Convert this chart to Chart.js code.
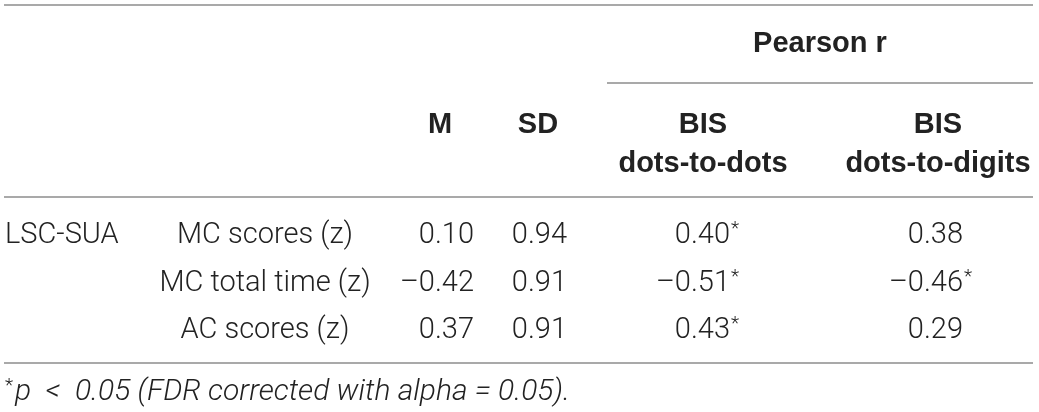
<!DOCTYPE html>
<html>
<head>
<meta charset="utf-8">
<script src="https://cdn.jsdelivr.net/npm/chart.js@4"></script>
<style>
  html, body { margin: 0; padding: 0; background: #ffffff; }
  #wrap { position: relative; width: 1039px; height: 412px; }
</style>
</head>
<body>
<div id="wrap"><canvas id="tableChart"></canvas></div>
<script>
// Данные таблицы
const groupLabels = ['LSC-SUA'];
const measures = ['MC scores (z)', 'MC total time (z)', 'AC scores (z)'];
const meanValues = [0.10, -0.42, 0.37];
const sdValues = [0.94, 0.91, 0.91];
const rDotsToDots = [0.40, -0.51, 0.43];
const rDotsToDigits = [0.38, -0.46, 0.29];
const sigDotsToDots = [true, true, true];
const sigDotsToDigits = [false, true, false];
const spanHeader = 'Pearson r';
const colHeaders = ['M', 'SD', 'BIS', 'BIS'];
const colSubHeaders = ['', '', 'dots-to-dots', 'dots-to-digits'];
const footnote = 'p  <  0.05 (FDR corrected with alpha = 0.05).';

document.addEventListener("DOMContentLoaded", function () {

    // Разметка (в единицах шкал: x 0..1039, y 0..412)
    const LAYOUT = {
        groupX: 5,
        measureX: 265,
        meanRight: 474,
        sdRight: 567,
        r1Right: 730,
        r2Right: 963,
        headCenters: [440, 538, 703, 938],
        spanCenter: 820,
        spanY: 52,
        headY: 133,
        subHeadY: 172,
        rowY: [243, 291, 338],
        footY: 400,
        rules: [
            { y: 5, x1: 4, x2: 1033 },
            { y: 83, x1: 607, x2: 1033 },
            { y: 197, x1: 4, x2: 1033 },
            { y: 363, x1: 4, x2: 1033 }
        ]
    };

    const FONT_LIGHT = '300 29px Roboto, "Liberation Sans", sans-serif';
    const FONT_BOLD = 'bold 29px "Liberation Sans", Arial, sans-serif';
    const FONT_STAR = '300 19px Roboto, "Liberation Sans", sans-serif';
    const FONT_FOOT = 'italic 300 30px Roboto, "Liberation Sans", sans-serif';
    const TEXT = '#222222';
    const RULE = '#8c8c8c';

    // минус как длинное тире, как в оригинале
    function fmt(v) {
        const s = Math.abs(v).toFixed(2);
        return v < 0 ? '\u2013' + s : s;
    }

    // Плагин: белый фон
    const whiteBackgroundPlugin = {
        id: 'whiteBackground',
        beforeDraw: (chart) => {
            const ctx = chart.ctx;
            ctx.save();
            ctx.globalCompositeOperation = 'destination-over';
            ctx.fillStyle = '#ffffff';
            ctx.fillRect(0, 0, chart.width, chart.height);
            ctx.restore();
        }
    };

    // Плагин: рисует ячейки таблицы через шкалы графика
    const tablePlugin = {
        id: 'tableCells',
        afterDraw: (chart) => {
            const ctx = chart.ctx;
            const sx = chart.scales.x;
            const sy = chart.scales.y;
            const X = (v) => sx.getPixelForValue(v);
            const Y = (v) => sy.getPixelForValue(v);

            ctx.save();
            ctx.textBaseline = 'alphabetic';

            // линии
            ctx.strokeStyle = RULE;
            ctx.lineWidth = 1.6;
            LAYOUT.rules.forEach(r => {
                ctx.beginPath();
                ctx.moveTo(X(r.x1), Y(r.y));
                ctx.lineTo(X(r.x2), Y(r.y));
                ctx.stroke();
            });

            // заголовки
            ctx.fillStyle = TEXT;
            ctx.font = FONT_BOLD;
            ctx.textAlign = 'center';
            ctx.fillText(spanHeader, X(LAYOUT.spanCenter), Y(LAYOUT.spanY));
            colHeaders.forEach((h, i) => {
                ctx.fillText(h, X(LAYOUT.headCenters[i]), Y(LAYOUT.headY));
                if (colSubHeaders[i]) {
                    ctx.fillText(colSubHeaders[i], X(LAYOUT.headCenters[i]), Y(LAYOUT.subHeadY));
                }
            });

            // число со звёздочкой
            function numCell(v, sig, right, y) {
                ctx.font = FONT_LIGHT;
                ctx.textAlign = 'right';
                ctx.fillText(fmt(v), X(right), Y(y));
                if (sig) {
                    ctx.font = FONT_STAR;
                    ctx.textAlign = 'left';
                    ctx.fillText('*', X(right) + 1, Y(y) - 9);
                }
            }

            // строки данных
            ctx.font = FONT_LIGHT;
            ctx.textAlign = 'left';
            ctx.fillText(groupLabels[0], X(LAYOUT.groupX), Y(LAYOUT.rowY[0]));
            measures.forEach((m, i) => {
                const y = LAYOUT.rowY[i];
                ctx.font = FONT_LIGHT;
                ctx.textAlign = 'center';
                ctx.fillText(m, X(LAYOUT.measureX), Y(y));
                numCell(meanValues[i], false, LAYOUT.meanRight, y);
                numCell(sdValues[i], false, LAYOUT.sdRight, y);
                numCell(rDotsToDots[i], sigDotsToDots[i], LAYOUT.r1Right, y);
                numCell(rDotsToDigits[i], sigDotsToDigits[i], LAYOUT.r2Right, y);
            });

            // примечание
            ctx.textAlign = 'left';
            ctx.font = FONT_STAR;
            ctx.fillText('*', X(LAYOUT.groupX), Y(LAYOUT.footY) - 9);
            ctx.font = FONT_FOOT;
            ctx.fillText(footnote, X(LAYOUT.groupX) + 10, Y(LAYOUT.footY));

            ctx.restore();
        }
    };

    const canvas = document.getElementById('tableChart');
    new Chart(canvas, {
        type: 'scatter',
        plugins: [whiteBackgroundPlugin, tablePlugin],
        data: { datasets: [] },
        options: {
            responsive: true,
            maintainAspectRatio: false,
            animation: false,
            layout: { padding: 0 },
            plugins: {
                legend: { display: false },
                tooltip: { enabled: false },
                title: { display: false }
            },
            scales: {
                x: { type: 'linear', min: 0, max: 1039, display: false },
                y: { type: 'linear', min: 0, max: 412, reverse: true, display: false }
            }
        }
    });
});
</script>
</body>
</html>
